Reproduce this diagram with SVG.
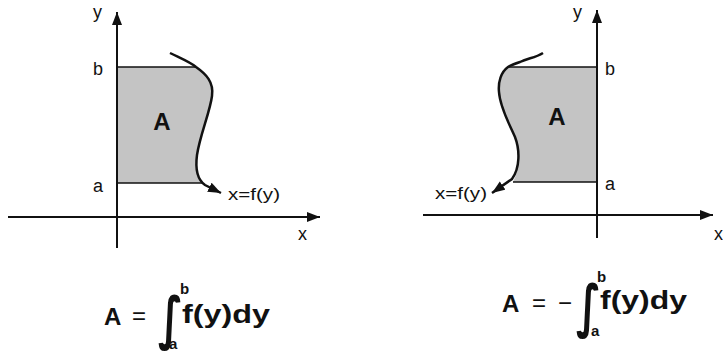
<svg xmlns="http://www.w3.org/2000/svg" width="723" height="353" viewBox="0 0 723 353">
<style>
.ax{stroke:#111;stroke-width:2;fill:none}
.edge{stroke:#111;stroke-width:1.5;fill:none}
.crv{stroke:#111;stroke-width:2.5;fill:none}
.area{fill:#c4c4c4;stroke:none}
.lbl{font-family:"Liberation Sans",Arial,sans-serif;font-size:18px;fill:#111}
.fx{font-family:"Liberation Sans",Arial,sans-serif;font-size:17px;fill:#111}
.big{font-family:"Liberation Sans",Arial,sans-serif;font-weight:bold;font-size:24px;fill:#111}
.op{font-family:"Liberation Sans",Arial,sans-serif;font-size:24px;fill:#111}
.eq{font-family:"Liberation Sans",Arial,sans-serif;font-weight:bold;font-size:25px;fill:#111}
.lim{font-family:"Liberation Sans",Arial,sans-serif;font-weight:bold;font-size:15px;fill:#111}
.int{font-family:"DejaVu Sans",sans-serif;font-weight:bold;font-size:48px;fill:#111}
</style>
<defs>
<marker id="ah" markerUnits="userSpaceOnUse" markerWidth="14" markerHeight="12" refX="13" refY="5" orient="auto">
<path d="M0,0 L13,5 L0,10 Z" fill="#111"/>
</marker>
</defs>
<rect width="723" height="353" fill="#fff"/>

<g id="left-plot">
<path class="area" d="M117,67 L196,67 C206,74 214,82 212,96 C210,112 200,135 197,155 C195,170 198,180 203,183 L117,183 Z"/>
<line class="edge" x1="117" y1="67" x2="196" y2="67"/>
<line class="edge" x1="117" y1="183" x2="203" y2="183"/>
<g id="left-connectors">
<line class="ax" x1="117" y1="248" x2="117" y2="12" marker-end="url(#ah)"/>
<line class="ax" x1="8" y1="217" x2="320" y2="217" marker-end="url(#ah)"/>
<path class="crv" d="M170,53 C180,58 190,62 196,67 C206,74 214,82 212,96 C210,112 200,135 197,155 C195,170 198,180 205,185 L221,193" marker-end="url(#ah)"/>
</g>
<text class="lbl" x="93" y="18">y</text>
<text class="lbl" x="93" y="75">b</text>
<text class="lbl" x="93" y="192">a</text>
<text class="lbl" x="298" y="240">x</text>
<text class="big" x="162" y="130" text-anchor="middle">A</text>
<text class="fx" x="228" y="200" textLength="52" lengthAdjust="spacingAndGlyphs">x=f(y)</text>
</g>

<g id="right-plot">
<path class="area" d="M597,67 L508,67 C501,72 498,82 499,92 C500,108 510,125 515,137 C520,150 520,168 513,182 L597,182 Z"/>
<line class="edge" x1="508" y1="67" x2="597" y2="67"/>
<line class="edge" x1="513" y1="182" x2="597" y2="182"/>
<g id="right-connectors">
<line class="ax" x1="597" y1="238" x2="597" y2="10" marker-end="url(#ah)"/>
<line class="ax" x1="423" y1="215" x2="713" y2="215" marker-end="url(#ah)"/>
<path class="crv" d="M543,53 C535,58 528,58 520,62 C514,64 511,65 508,67 C501,72 498,82 499,92 C500,108 510,125 515,137 C520,150 520,168 512,179 L492,193" marker-end="url(#ah)"/>
</g>
<text class="lbl" x="573" y="18">y</text>
<text class="lbl" x="605" y="75">b</text>
<text class="lbl" x="605" y="190">a</text>
<text class="lbl" x="714" y="240">x</text>
<text class="big" x="557" y="125" text-anchor="middle">A</text>
<text class="fx" x="435" y="199" textLength="52" lengthAdjust="spacingAndGlyphs">x=f(y)</text>
</g>

<g id="left-formula">
<text class="big" x="104" y="325">A</text>
<text class="op" x="132" y="324">=</text>
<text class="int" transform="translate(158,338) scale(0.85,1.2)">∫</text>
<text class="lim" x="180" y="294">b</text>
<text class="lim" x="169" y="349">a</text>
<text class="eq" x="182" y="323" textLength="88" lengthAdjust="spacingAndGlyphs">f(y)dy</text>
</g>

<g id="right-formula">
<text class="big" x="502" y="312">A</text>
<text class="op" x="532" y="311">=</text>
<text class="op" x="558" y="311">−</text>
<text class="int" transform="translate(576,326) scale(0.85,1.2)">∫</text>
<text class="lim" x="597" y="282">b</text>
<text class="lim" x="591" y="336">a</text>
<text class="eq" x="600" y="309" textLength="87" lengthAdjust="spacingAndGlyphs">f(y)dy</text>
</g>
</svg>
